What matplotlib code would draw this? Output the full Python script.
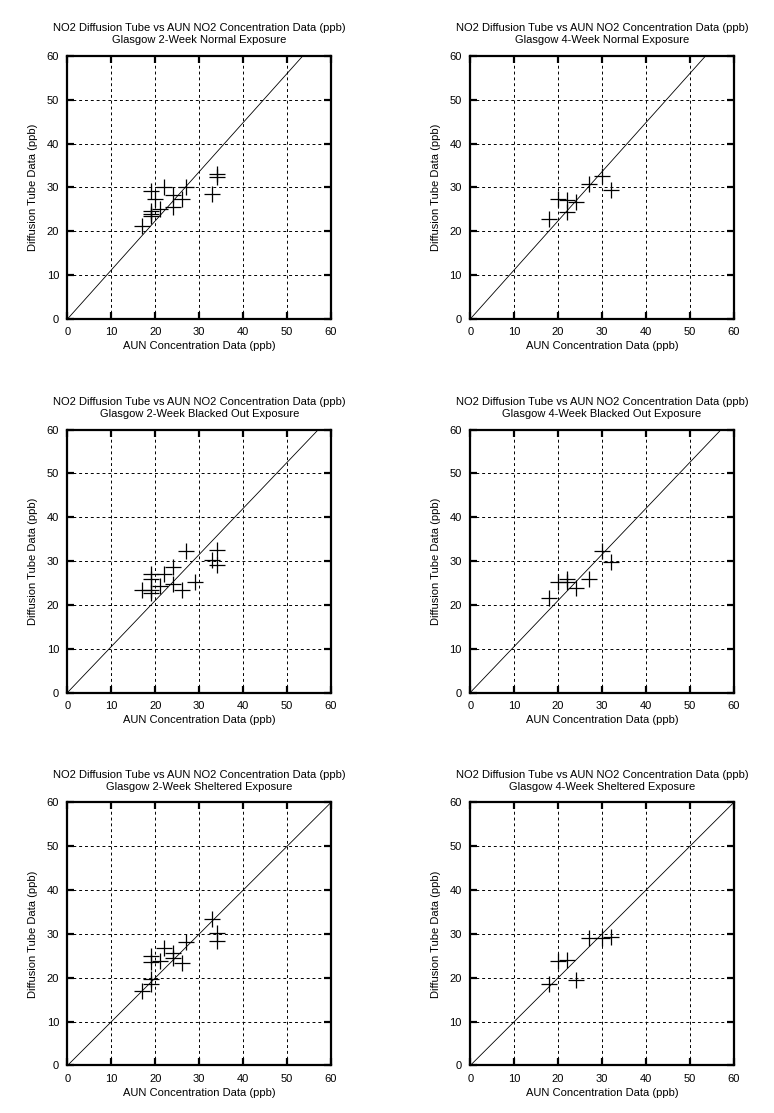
import matplotlib
matplotlib.use("Agg")
import matplotlib.pyplot as plt

plt.rcParams['font.family'] = ['Liberation Sans', 'DejaVu Sans']

title_top = "NO2 Diffusion Tube vs AUN NO2 Concentration Data (ppb)"
subtitles = ["Glasgow 2-Week Normal Exposure", "Glasgow 4-Week Normal Exposure",
             "Glasgow 2-Week Blacked Out Exposure", "Glasgow 4-Week Blacked Out Exposure",
             "Glasgow 2-Week Sheltered Exposure", "Glasgow 4-Week Sheltered Exposure"]

# AUN (x) vs diffusion tube (y) values
aun_2wk_normal = [17, 19, 19, 19, 19, 20, 21, 22, 24, 24, 26, 27, 33, 34, 34]
tube_2wk_normal = [21.3, 29.1, 24.7, 24.0, 23.5, 27.3, 25.1, 30.1, 28.2, 25.6, 27.3, 30.2, 28.5, 33.1, 32.5]

aun_4wk_normal = [18, 20, 22, 22, 24, 27, 30, 32]
tube_4wk_normal = [22.9, 27.4, 27.2, 24.3, 26.7, 30.8, 32.7, 29.5]

aun_2wk_black = [17, 19, 19, 19, 19, 21, 22, 24, 24, 26, 27, 29, 33, 34, 34]
tube_2wk_black = [23.3, 27.0, 26.0, 23.4, 22.7, 24.3, 27.0, 28.6, 24.7, 23.3, 32.3, 25.2, 30.2, 32.4, 29.0]

aun_4wk_black = [18, 20, 22, 22, 24, 27, 30, 32]
tube_4wk_black = [21.5, 25.3, 25.8, 25.1, 23.8, 26.0, 32.2, 29.8]

aun_2wk_shelt = [17, 19, 19, 19, 19, 21, 22, 24, 24, 26, 27, 33, 34, 34]
tube_2wk_shelt = [17.1, 25.0, 23.5, 19.7, 18.5, 23.8, 26.7, 25.6, 24.5, 23.3, 28.2, 33.4, 30.3, 28.5]

aun_4wk_shelt = [18, 20, 22, 24, 27, 30, 32]
tube_4wk_shelt = [18.7, 23.8, 24.1, 19.6, 29.0, 29.0, 29.3]

xs = [aun_2wk_normal, aun_4wk_normal, aun_2wk_black, aun_4wk_black, aun_2wk_shelt, aun_4wk_shelt]
ys = [tube_2wk_normal, tube_4wk_normal, tube_2wk_black, tube_4wk_black, tube_2wk_shelt, tube_4wk_shelt]
# slope of the fitted line through the origin
slopes = [1.12, 1.12, 1.05, 1.05, 1.0, 1.0]

ticks = [0, 10, 20, 30, 40, 50, 60]

fig = plt.figure(figsize=(7.74, 11.13), dpi=100)
lefts = [0.0872, 0.6076]
bottoms = [0.7134, 0.3778, 0.0427]
w, h = 0.3404, 0.2363

for i in range(6):
    ax = fig.add_axes([lefts[i % 2], bottoms[i // 2], w, h])
    ax.set_xlim(0, 60)
    ax.set_ylim(0, 60)
    ax.set_xticks(ticks)
    ax.set_yticks(ticks)
    ax.grid(True, color='black', linestyle=(0, (3, 3)), linewidth=0.7)
    ax.plot([0, 60], [0, 60 * slopes[i]], color='black', linewidth=0.6)
    ax.plot(xs[i], ys[i], linestyle='none', marker='+', markersize=11,
            markeredgewidth=0.9, color='black')
    for s in ax.spines.values():
        s.set_linewidth(1.6)
    ax.tick_params(direction='in', length=5, width=1.6, top=True, right=True,
                   labelsize=8, pad=6)
    ax.set_title(title_top + "\n" + subtitles[i], fontsize=8, pad=9, linespacing=1.25)
    ax.set_xlabel("AUN Concentration Data (ppb)", fontsize=8, labelpad=3)
    ax.set_ylabel("Diffusion Tube Data (ppb)", fontsize=8, labelpad=6)

fig.savefig("out.png", dpi=100)
